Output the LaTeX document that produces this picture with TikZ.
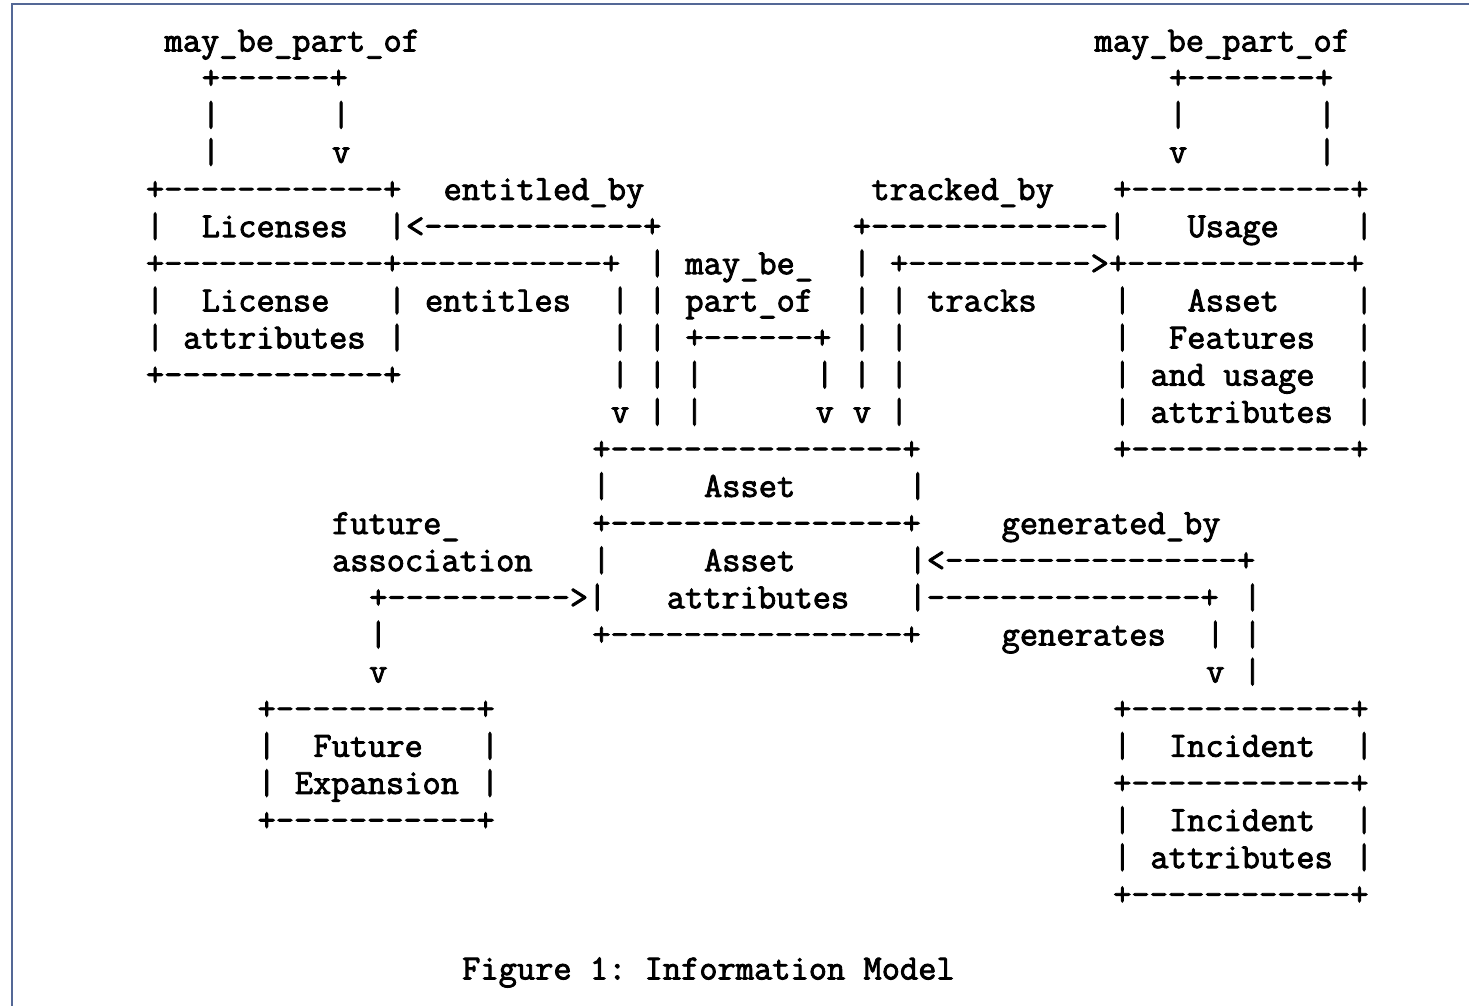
\documentclass[tikz,border=0pt]{standalone}
\usepackage{fontspec}
\newfontfamily\asciifont{Latin Modern Mono}[FakeBold=2.4]
\frenchspacing
\definecolor{frameblue}{RGB}{84,104,150}
\tikzset{tok/.style={anchor=base west,inner sep=0pt,outer sep=0pt,font=\asciifont\fontsize{17.71pt}{20pt}\selectfont}}
\newcommand\tk[3]{\node[tok] (t-#2-#1) at ({146+#1*18.6},{51.5+(#2-1)*37.12}) {#3};}
\begin{document}
\begin{tikzpicture}[x=0.5pt,y=-0.5pt]
\useasboundingbox (0,0) rectangle (1469,1006);
\draw[frameblue,line width=0.6pt] (1469,4) -- (12,4) -- (12,1006);
% row 1-4
\tk{1}{1}{may\_be\_part\_of}
\tk{51}{1}{may\_be\_part\_of}
\tk{3}{2}{+------+}
\tk{55}{2}{+-------+}
\tk{3}{3}{|}\tk{10}{3}{|}\tk{55}{3}{|}\tk{63}{3}{|}
\tk{3}{4}{|}\tk{10}{4}{v}\tk{55}{4}{v}\tk{63}{4}{|}
% row 5
\tk{0}{5}{+------------+}
\tk{16}{5}{entitled\_by}
\tk{39}{5}{tracked\_by}
\tk{52}{5}{+------------+}
% row 6
\tk{0}{6}{|}\tk{3}{6}{Licenses}\tk{13}{6}{|<------------+}
\tk{38}{6}{+-------------|}\tk{56}{6}{Usage}\tk{65}{6}{|}
% row 7
\tk{0}{7}{+------------+-----------+}
\tk{27}{7}{|}\tk{29}{7}{may\_be\_}\tk{38}{7}{|}
\tk{40}{7}{+---------->+------------+}
% row 8
\tk{0}{8}{|}\tk{3}{8}{License}\tk{13}{8}{|}\tk{15}{8}{entitles}\tk{25}{8}{|}
\tk{27}{8}{|}\tk{29}{8}{part\_of}\tk{38}{8}{|}\tk{40}{8}{|}\tk{42}{8}{tracks}
\tk{52}{8}{|}\tk{56}{8}{Asset}\tk{65}{8}{|}
% row 9
\tk{0}{9}{|}\tk{2}{9}{attributes}\tk{13}{9}{|}\tk{25}{9}{|}\tk{27}{9}{|}
\tk{29}{9}{+------+}\tk{38}{9}{|}\tk{40}{9}{|}\tk{52}{9}{|}\tk{55}{9}{Features}\tk{65}{9}{|}
% row 10
\tk{0}{10}{+------------+}\tk{25}{10}{|}\tk{27}{10}{|}\tk{29}{10}{|}\tk{36}{10}{|}
\tk{38}{10}{|}\tk{40}{10}{|}\tk{52}{10}{|}\tk{54}{10}{and usage}\tk{65}{10}{|}
% row 11
\tk{25}{11}{v}\tk{27}{11}{|}\tk{29}{11}{|}\tk{36}{11}{v}\tk{38}{11}{v}\tk{40}{11}{|}
\tk{52}{11}{|}\tk{54}{11}{attributes}\tk{65}{11}{|}
% row 12
\tk{24}{12}{+----------------+}\tk{52}{12}{+------------+}
% row 13
\tk{24}{13}{|}\tk{30}{13}{Asset}\tk{41}{13}{|}
% row 14
\tk{10}{14}{future\_}\tk{24}{14}{+----------------+}\tk{46}{14}{generated\_by}
% row 15
\tk{10}{15}{association}\tk{24}{15}{|}\tk{30}{15}{Asset}\tk{41}{15}{|<----------------+}
% row 16
\tk{12}{16}{+---------->|}\tk{28}{16}{attributes}\tk{41}{16}{|---------------+}\tk{59}{16}{|}
% row 17
\tk{12}{17}{|}\tk{24}{17}{+----------------+}\tk{46}{17}{generates}\tk{57}{17}{|}\tk{59}{17}{|}
% row 18
\tk{12}{18}{v}\tk{57}{18}{v}\tk{59}{18}{|}
% row 19
\tk{6}{19}{+-----------+}\tk{52}{19}{+------------+}
% row 20
\tk{6}{20}{|}\tk{9}{20}{Future}\tk{18}{20}{|}\tk{52}{20}{|}\tk{55}{20}{Incident}\tk{65}{20}{|}
% row 21
\tk{6}{21}{|}\tk{8}{21}{Expansion}\tk{18}{21}{|}\tk{52}{21}{+------------+}
% row 22
\tk{6}{22}{+-----------+}\tk{52}{22}{|}\tk{55}{22}{Incident}\tk{65}{22}{|}
% row 23
\tk{52}{23}{|}\tk{54}{23}{attributes}\tk{65}{23}{|}
% row 24
\tk{52}{24}{+------------+}
% row 26
\tk{17}{26}{Figure 1: Information Model}
\end{tikzpicture}
\end{document}
